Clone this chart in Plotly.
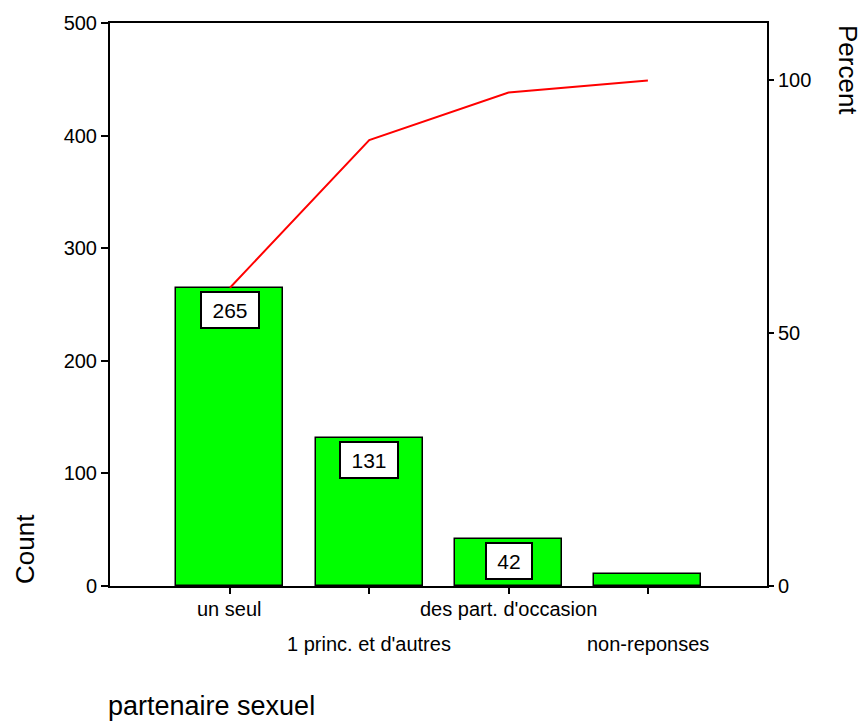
import plotly.graph_objects as go

# Pareto chart of "partenaire sexuel"
categories = ["un seul", "1 princ. et d'autres", "des part. d'occasion", "non-reponses"]
counts = [265, 131, 42, 11]
cumulative_pct = [59.0, 88.2, 97.6, 100.0]
labelled = ["265", "131", "42", None]

left_ticks = [0, 100, 200, 300, 400, 500]
right_ticks = [0, 50, 100]

total = 449
count_max = 500
pct_max = count_max / total * 100

FONT = "Liberation Sans, Arial, sans-serif"
GREEN = "#00ff00"

fig = go.Figure()

fig.add_trace(go.Bar(
    x=categories, y=counts, width=0.768,
    marker=dict(color=GREEN, line=dict(color="black", width=1.5)),
    showlegend=False, hoverinfo="x+y",
))

fig.add_trace(go.Scatter(
    x=categories, y=cumulative_pct, yaxis="y2", mode="lines",
    line=dict(color="#ff0000", width=2),
    showlegend=False,
))

annotations = []
# value boxes near the top of each bar
for cat, val, txt in zip(categories, counts, labelled):
    if txt is None:
        continue
    w = len(txt) * 12 + 10
    annotations.append(dict(
        x=cat, y=val, xref="x", yref="y", text=txt, showarrow=False,
        xanchor="center", yanchor="top", yshift=-3,
        font=dict(family=FONT, size=21, color="black"),
        bgcolor="white", bordercolor="black", borderwidth=2, borderpad=5,
        width=w, height=24, align="center", valign="middle",
    ))

# category labels on two staggered rows
for i, cat in enumerate(categories):
    annotations.append(dict(
        x=cat, xref="x", y=-0.0406 if i % 2 == 0 else -0.1023, yref="paper",
        text=cat, showarrow=False, xanchor="center", yanchor="middle",
        font=dict(family=FONT, size=20, color="black"),
    ))

# axis titles
annotations += [
    dict(x=-0.1294, y=0.0, xref="paper", yref="paper", text="Count",
         textangle=-90, showarrow=False, xanchor="center", yanchor="bottom",
         font=dict(family=FONT, size=26, color="black")),
    dict(x=1.1233, y=1.0, xref="paper", yref="paper", text="Percent",
         textangle=90, showarrow=False, xanchor="center", yanchor="top",
         font=dict(family=FONT, size=26, color="black")),
    dict(x=-0.006, y=-0.2435, xref="paper", yref="paper", text="partenaire sexuel",
         showarrow=False, xanchor="left", yanchor="bottom",
         font=dict(family=FONT, size=27, color="black")),
]

fig.update_layout(
    width=864, height=727,
    margin=dict(l=110, r=97, t=19, b=141),
    paper_bgcolor="white", plot_bgcolor="white",
    font=dict(family=FONT, size=20, color="black"),
    bargap=0,
    xaxis=dict(
        type="category", range=[-0.861, 3.855],
        showline=True, linecolor="black", linewidth=2, mirror=True,
        ticks="outside", ticklen=6, tickwidth=1.5, tickcolor="black",
        showticklabels=False, showgrid=False, zeroline=False,
    ),
    yaxis=dict(
        range=[0, count_max], tickvals=left_ticks,
        showline=True, linecolor="black", linewidth=2,
        ticks="outside", ticklen=7, tickwidth=1.5, tickcolor="black",
        tickfont=dict(family=FONT, size=20),
        showgrid=False, zeroline=False,
    ),
    yaxis2=dict(
        overlaying="y", side="right", range=[0, pct_max], tickvals=right_ticks,
        showline=True, linecolor="black", linewidth=2,
        ticks="outside", ticklen=5, tickwidth=1.5, tickcolor="black",
        tickfont=dict(family=FONT, size=20),
        showgrid=False, zeroline=False,
    ),
    annotations=annotations,
)

fig.write_html("out.html")
